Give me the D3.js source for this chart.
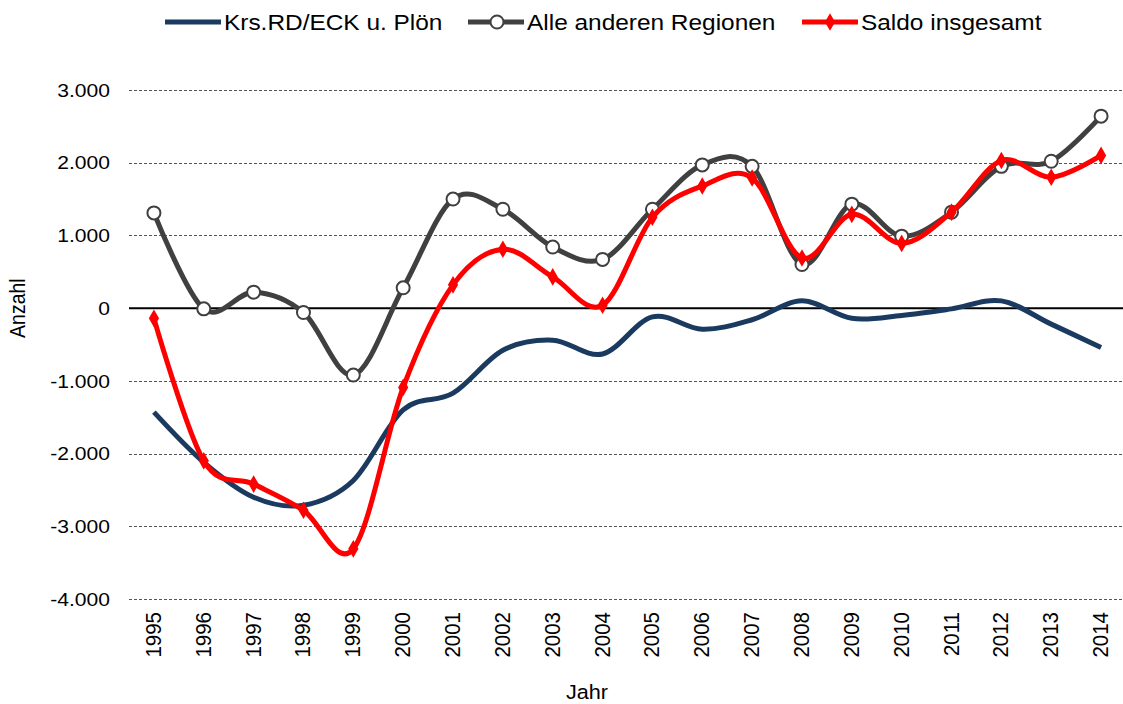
<!DOCTYPE html>
<html>
<head>
<meta charset="utf-8">
<script src="https://cdn.jsdelivr.net/npm/d3@7"></script>
<style>
  body { margin: 0; background: #fff; }
  text { font-family: "Liberation Sans", Arial, sans-serif; fill: #000; }
</style>
</head>
<body>
<div class="chart"></div>
<script>
const years = ["1995","1996","1997","1998","1999","2000","2001","2002","2003","2004",
               "2005","2006","2007","2008","2009","2010","2011","2012","2013","2014"];
const krs = [-1430,-2120,-2600,-2710,-2370,-1400,-1170,-580,-440,-630,
             -120,-290,-160,100,-140,-100,-10,100,-220,-540];
const andere = [1310,-10,220,-60,-920,280,1500,1360,840,670,
                1360,1970,1950,600,1430,990,1320,1950,2020,2640];
const saldo = [-140,-2100,-2420,-2780,-3310,-1090,320,810,430,40,
               1250,1680,1790,690,1290,890,1320,2030,1800,2100];
const yTicks = [3000,2000,1000,0,-1000,-2000,-3000,-4000];

const series = [
  {name: "Krs.RD/ECK u. Plön", values: krs, color: "#1b3a60", marker: null},
  {name: "Alle anderen Regionen", values: andere, color: "#404040", marker: "circle"},
  {name: "Saldo insgesamt", values: saldo, color: "#ff0000", marker: "diamond"}
];

const width = 1123, height = 704;
const sx = 1.11; // the picture is a bit wider than tall in its text

const svg = d3.select(".chart").append("svg")
  .attr("width", width).attr("height", height);

const x = d3.scaleBand().domain(years).range([129, 1126]);
const y = d3.scaleLinear().domain([-4000, 3000]).range([599, 90]);

const fmt = v => d3.format(",")(v).replace(/,/g, ".").replace("−", "-");

// grid
svg.append("g").selectAll("line")
  .data(yTicks.filter(d => d !== 0))
  .join("line")
  .attr("x1", 129).attr("x2", 1123)
  .attr("y1", d => Math.round(y(d)) + 0.5).attr("y2", d => Math.round(y(d)) + 0.5)
  .attr("stroke", "#555").attr("stroke-width", 1).attr("stroke-dasharray", "3,2");

svg.append("line")
  .attr("x1", 129).attr("x2", 1123)
  .attr("y1", y(0)).attr("y2", y(0))
  .attr("stroke", "#000").attr("stroke-width", 2);

// y axis labels
svg.append("g").selectAll("text")
  .data(yTicks)
  .join("text")
  .attr("transform", d => `translate(110,${y(d)}) scale(${sx},1)`)
  .attr("dy", "0.35em")
  .attr("text-anchor", "end")
  .style("font-size", "19px")
  .text(fmt);

// x axis labels
svg.append("g").selectAll("text")
  .data(years)
  .join("text")
  .attr("transform", d => `translate(${x(d) + x.bandwidth() / 2 + 7},612) scale(${sx},1) rotate(-90)`)
  .attr("text-anchor", "end")
  .style("font-size", "20.5px")
  .text(d => d);

svg.append("text")
  .attr("transform", `translate(25,${y(0)}) scale(${sx},1) rotate(-90)`)
  .attr("text-anchor", "middle")
  .style("font-size", "19.5px")
  .text("Anzahl");

svg.append("text")
  .attr("transform", `translate(587,699) scale(${sx},1)`)
  .attr("text-anchor", "middle")
  .style("font-size", "19.5px")
  .text("Jahr");

const cx = d => x(d) + x.bandwidth() / 2;
const line = d3.line()
  .x((d, i) => cx(years[i]))
  .y(d => y(d))
  .curve(d3.curveCardinal.tension(0));

const diamond = d3.symbol().type(d3.symbolDiamond).size(90);

series.forEach(s => {
  svg.append("path")
    .datum(s.values)
    .attr("d", line)
    .attr("fill", "none")
    .attr("stroke", s.color)
    .attr("stroke-width", 5)
    .attr("stroke-linejoin", "round");

  if (s.marker === "circle") {
    svg.append("g").selectAll("circle")
      .data(s.values)
      .join("circle")
      .attr("cx", (d, i) => cx(years[i]))
      .attr("cy", d => y(d))
      .attr("r", 6.5)
      .attr("fill", "#fff")
      .attr("stroke", s.color)
      .attr("stroke-width", 2);
  } else if (s.marker === "diamond") {
    svg.append("g").selectAll("path")
      .data(s.values)
      .join("path")
      .attr("transform", (d, i) => `translate(${cx(years[i])},${y(d)})`)
      .attr("d", diamond)
      .attr("fill", s.color);
  }
});

// legend
const legendPos = [165, 468, 802];
const legend = svg.append("g").selectAll("g")
  .data(series)
  .join("g")
  .attr("transform", (d, i) => `translate(${legendPos[i]},22)`);

legend.append("line")
  .attr("x1", 0).attr("x2", 56)
  .attr("stroke", d => d.color)
  .attr("stroke-width", 5);

legend.filter(d => d.marker === "circle").append("circle")
  .attr("cx", 29).attr("r", 6.5)
  .attr("fill", "#fff").attr("stroke", d => d.color).attr("stroke-width", 2);

legend.filter(d => d.marker === "diamond").append("path")
  .attr("transform", "translate(28,0)")
  .attr("d", diamond)
  .attr("fill", d => d.color);

legend.append("text")
  .attr("transform", `translate(59,0) scale(${sx},1)`)
  .attr("dy", "0.35em")
  .style("font-size", "22px")
  .text(d => d.name);
</script>
</body>
</html>
